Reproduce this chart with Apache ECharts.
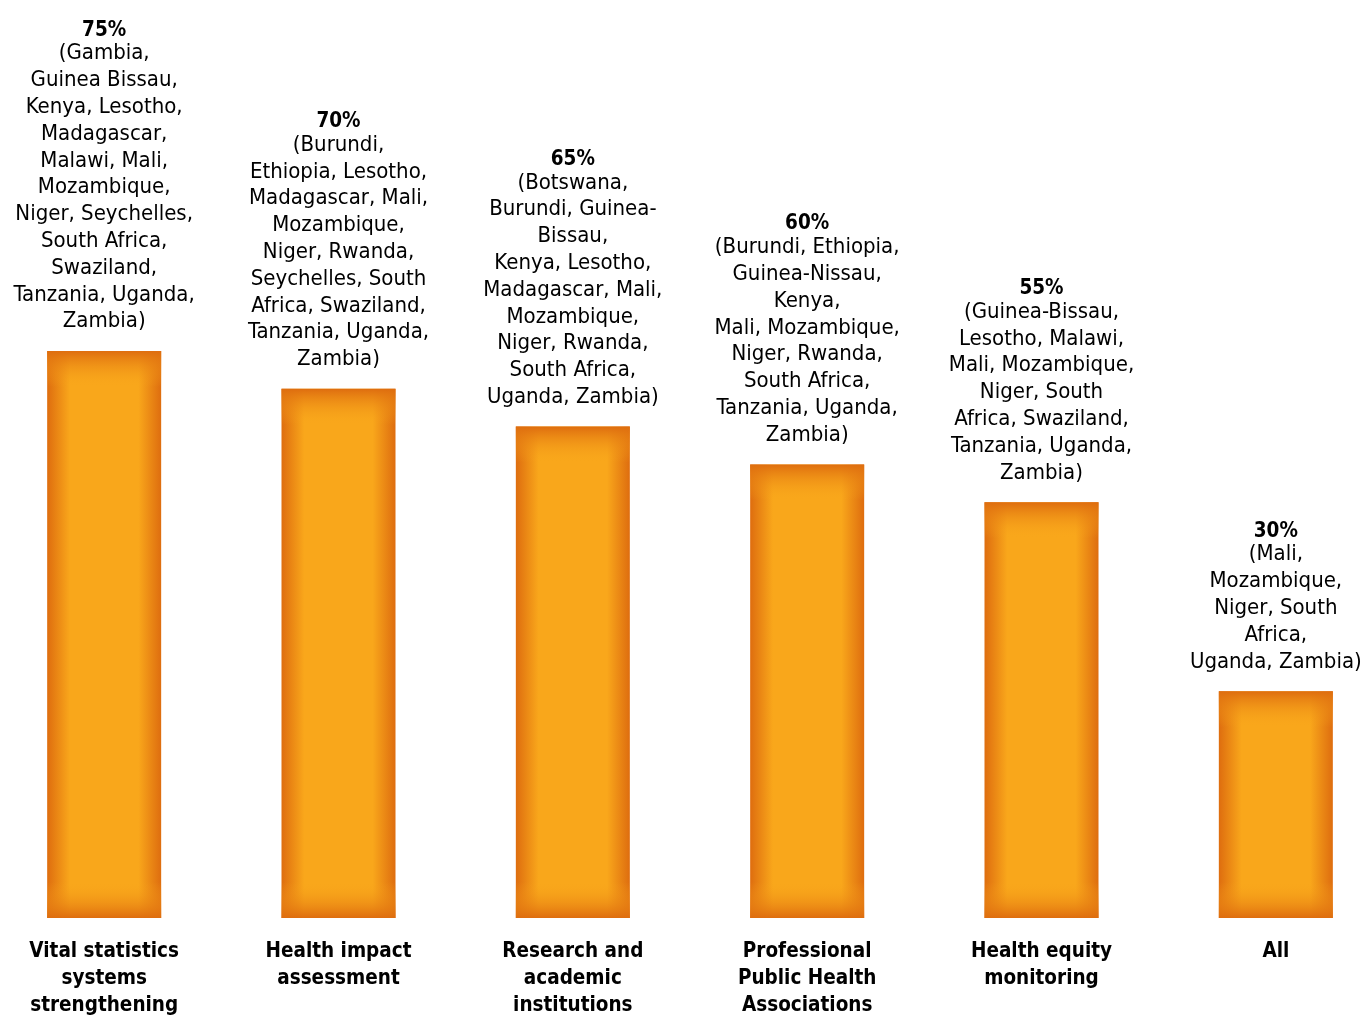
<!DOCTYPE html>
<html>
<head>
<meta charset="utf-8">
<script src="https://cdn.jsdelivr.net/npm/echarts@6/dist/echarts.min.js"></script>
<style>
  html, body { margin: 0; padding: 0; background: #fff; }
  #chart { width: 1362px; height: 1016px; }
</style>
</head>
<body>
<div id="chart"></div>
<script>
// Share of countries using data in each area
const categories = [
  'Vital statistics\nsystems\nstrengthening',
  'Health impact\nassessment',
  'Research and\nacademic\ninstitutions',
  'Professional\nPublic Health\nAssociations',
  'Health equity\nmonitoring',
  'All'
];
const values = [75, 70, 65, 60, 55, 30];
const countryLines = [
  ['(Gambia,', 'Guinea Bissau,', 'Kenya, Lesotho,', 'Madagascar,', 'Malawi, Mali,', 'Mozambique,', 'Niger, Seychelles,', 'South Africa,', 'Swaziland,', 'Tanzania, Uganda,', 'Zambia)'],
  ['(Burundi,', 'Ethiopia, Lesotho,', 'Madagascar, Mali,', 'Mozambique,', 'Niger, Rwanda,', 'Seychelles, South', 'Africa, Swaziland,', 'Tanzania, Uganda,', 'Zambia)'],
  ['(Botswana,', 'Burundi, Guinea-', 'Bissau,', 'Kenya, Lesotho,', 'Madagascar, Mali,', 'Mozambique,', 'Niger, Rwanda,', 'South Africa,', 'Uganda, Zambia)'],
  ['(Burundi, Ethiopia,', 'Guinea-Nissau,', 'Kenya,', 'Mali, Mozambique,', 'Niger, Rwanda,', 'South Africa,', 'Tanzania, Uganda,', 'Zambia)'],
  ['(Guinea-Bissau,', 'Lesotho, Malawi,', 'Mali, Mozambique,', 'Niger, South', 'Africa, Swaziland,', 'Tanzania, Uganda,', 'Zambia)'],
  ['(Mali,', 'Mozambique,', 'Niger, South', 'Africa,', 'Uganda, Zambia)']
];

const FONT = '"DejaVu Sans Condensed", "Liberation Sans Narrow", sans-serif';
const DARK = '#de6d0f';
const LIGHT = '#f9a71b';

const chart = echarts.init(document.getElementById('chart'), null, { renderer: 'canvas' });

const Y_MAX = 100;
const GRID_TOP = 162, GRID_BOTTOM = 98;
const pxPerUnit = (1016 - GRID_TOP - GRID_BOTTOM) / Y_MAX;

// side shading: dark edges, bright middle
const sideGradient = new echarts.graphic.LinearGradient(0, 0, 1, 0, [
  { offset: 0, color: DARK },
  { offset: 0.2, color: LIGHT },
  { offset: 0.8, color: LIGHT },
  { offset: 1, color: DARK }
]);

// top/bottom shading sized in pixels for each bar
function capGradient(v) {
  const h = v * pxPerUnit;
  const band = 36 / h;
  return new echarts.graphic.LinearGradient(0, 0, 0, 1, [
    { offset: 0, color: 'rgba(222,109,15,1)' },
    { offset: band, color: 'rgba(249,167,27,0)' },
    { offset: 1 - band, color: 'rgba(249,167,27,0)' },
    { offset: 1, color: 'rgba(222,109,15,1)' }
  ]);
}

chart.setOption({
  animation: false,
  backgroundColor: '#ffffff',
  grid: {
    left: -13, right: -31, top: GRID_TOP, bottom: GRID_BOTTOM,
    outerBoundsMode: 'none', containLabel: false
  },
  xAxis: {
    type: 'category',
    data: categories,
    axisLine: { show: false },
    axisTick: { show: false },
    axisLabel: {
      interval: 0,
      margin: 20,
      fontFamily: FONT,
      fontWeight: 'bold',
      fontSize: 20.5,
      lineHeight: 27,
      color: '#000',
      align: 'center',
      verticalAlign: 'top'
    }
  },
  yAxis: {
    type: 'value', min: 0, max: Y_MAX, show: false,
    splitLine: { show: false }
  },
  series: [
    {
      type: 'bar',
      barWidth: 114,
      data: values,
      itemStyle: { color: sideGradient },
      z: 2
    },
    {
      type: 'bar',
      barWidth: 114,
      barGap: '-100%',
      data: values.map(v => ({ value: v, itemStyle: { color: capGradient(v) } })),
      z: 3,
      label: {
        show: true,
        position: 'top',
        distance: 16,
        align: 'center',
        fontFamily: FONT,
        formatter: p => '{p|' + values[p.dataIndex] + '%}\n{c|' + countryLines[p.dataIndex].join('\n') + '}',
        rich: {
          p: { fontFamily: FONT, fontWeight: 'bold', fontSize: 20.5, lineHeight: 20, color: '#000', align: 'center' },
          c: { fontFamily: FONT, fontSize: 22, lineHeight: 26.8, color: '#000', align: 'center' }
        }
      }
    }
  ]
});
</script>
</body>
</html>
